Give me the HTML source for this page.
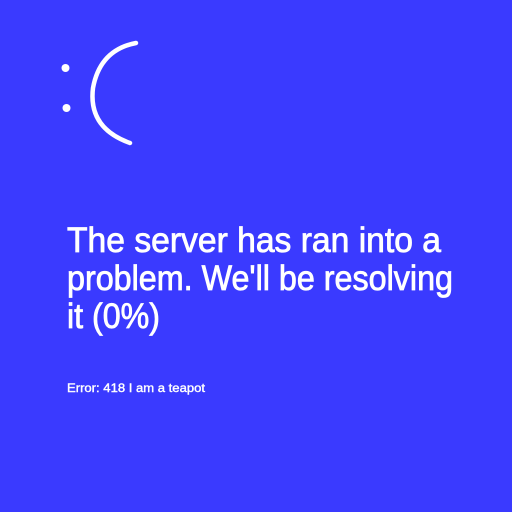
<!DOCTYPE html>
<html><head><style>
html,body{margin:0;padding:0;width:512px;height:512px;background:#3a3aff;overflow:hidden}
</style></head><body>
<svg width="512" height="512" viewBox="0 0 512 512" xmlns="http://www.w3.org/2000/svg">
<rect width="512" height="512" fill="#3a3aff"/>
<circle cx="65.5" cy="68" r="4" fill="#fff"/>
<circle cx="66.5" cy="108" r="4" fill="#fff"/>
<path d="M136 43 Q100 50 93 88 Q88 128 130 143" fill="none" stroke="#fff" stroke-width="4.5" stroke-linecap="round"/>
<g fill="#fff" stroke="#fff" stroke-width="0.8" font-family="Liberation Sans, sans-serif" font-size="35">
<text x="67" y="252" textLength="374" lengthAdjust="spacingAndGlyphs">The server has ran into a</text>
<text x="67" y="290" textLength="386" lengthAdjust="spacingAndGlyphs">problem. We'll be resolving</text>
<text x="67" y="328" textLength="93" lengthAdjust="spacingAndGlyphs">it (0%)</text>
<text x="67" y="392" font-size="12" stroke-width="0.4" textLength="138" lengthAdjust="spacingAndGlyphs">Error:  418 I am a teapot</text>
</g>
</svg>
</body></html>
